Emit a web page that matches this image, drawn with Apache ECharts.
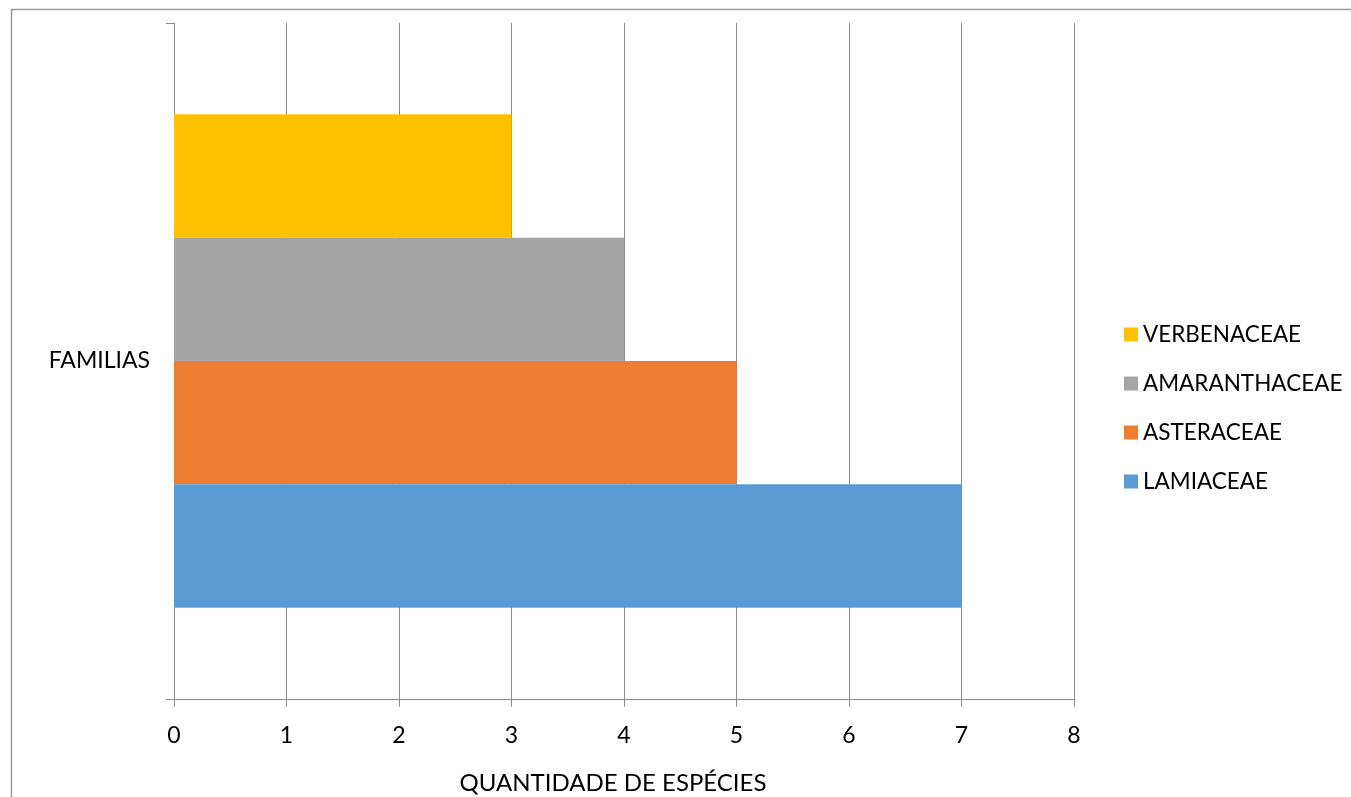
<!DOCTYPE html>
<html>
<head>
<meta charset="utf-8">
<script src="https://cdn.jsdelivr.net/npm/echarts@6/dist/echarts.min.js"></script>
<style>
  html, body { margin: 0; padding: 0; background: #fff; }
  #chart { width: 1351px; height: 797px; }
</style>
</head>
<body>
<div id="chart"></div>
<script>
// Species count per plant family
const categories = ['FAMILIAS'];
const families = ['VERBENACEAE', 'AMARANTHACEAE', 'ASTERACEAE', 'LAMIACEAE'];
const speciesCounts = [3, 4, 5, 7];
const familyColors = ['#FFC000', '#A5A5A5', '#ED7D31', '#5B9BD5'];
const xTicks = [0, 1, 2, 3, 4, 5, 6, 7, 8];

const FONT = 'Lato, "Open Sans", sans-serif';
const AXIS_GREY = '#8c8c8c';

const chart = echarts.init(document.getElementById('chart'), null, { renderer: 'canvas' });

const series = families.map((name, i) => ({
  name: name,
  type: 'bar',
  data: [speciesCounts[i]],
  barGap: '0%',
  barCategoryGap: '27%',
  itemStyle: { color: familyColors[i] },
  emphasis: { disabled: true }
}));

chart.setOption({
  animation: false,
  backgroundColor: '#ffffff',
  textStyle: { fontFamily: FONT },
  graphic: [{
    type: 'rect',
    shape: { x: 11.5, y: 9.5, width: 2000, height: 2000 },
    style: { fill: 'none', stroke: '#9a9a9a', lineWidth: 1.5 },
    silent: true,
    z: 0
  }],
  grid: {
    left: 174, right: 277, top: 23, bottom: 98,
    containLabel: false,
    outerBoundsMode: 'none'
  },
  legend: {
    orient: 'vertical',
    left: 1119,
    top: 318,
    data: families,
    icon: 'rect',
    itemWidth: 14,
    itemHeight: 14,
    itemGap: 26,
    textStyle: { fontFamily: FONT, fontSize: 22.5, color: '#000' },
    selectedMode: false
  },
  xAxis: {
    type: 'value',
    min: xTicks[0],
    max: xTicks[xTicks.length - 1],
    interval: 1,
    name: 'QUANTIDADE DE ESPÉCIES',
    nameLocation: 'middle',
    nameGap: 72,
    nameTextStyle: { fontFamily: FONT, fontSize: 24, color: '#000', padding: [0, 22, 0, 0] },
    axisLine: { show: true, lineStyle: { color: AXIS_GREY, width: 1 } },
    axisTick: { show: true, length: 8, lineStyle: { color: AXIS_GREY } },
    axisLabel: { fontFamily: FONT, fontSize: 23, color: '#000', margin: 25 },
    splitLine: { show: true, lineStyle: { color: AXIS_GREY, width: 1 } }
  },
  yAxis: {
    type: 'category',
    data: categories,
    boundaryGap: true,
    axisLine: { show: true, lineStyle: { color: AXIS_GREY, width: 1 } },
    axisTick: { show: true, length: 8, lineStyle: { color: AXIS_GREY } },
    axisLabel: { fontFamily: FONT, fontSize: 23, color: '#000', margin: 24 },
    splitLine: { show: false }
  },
  series: series
});
</script>
</body>
</html>
